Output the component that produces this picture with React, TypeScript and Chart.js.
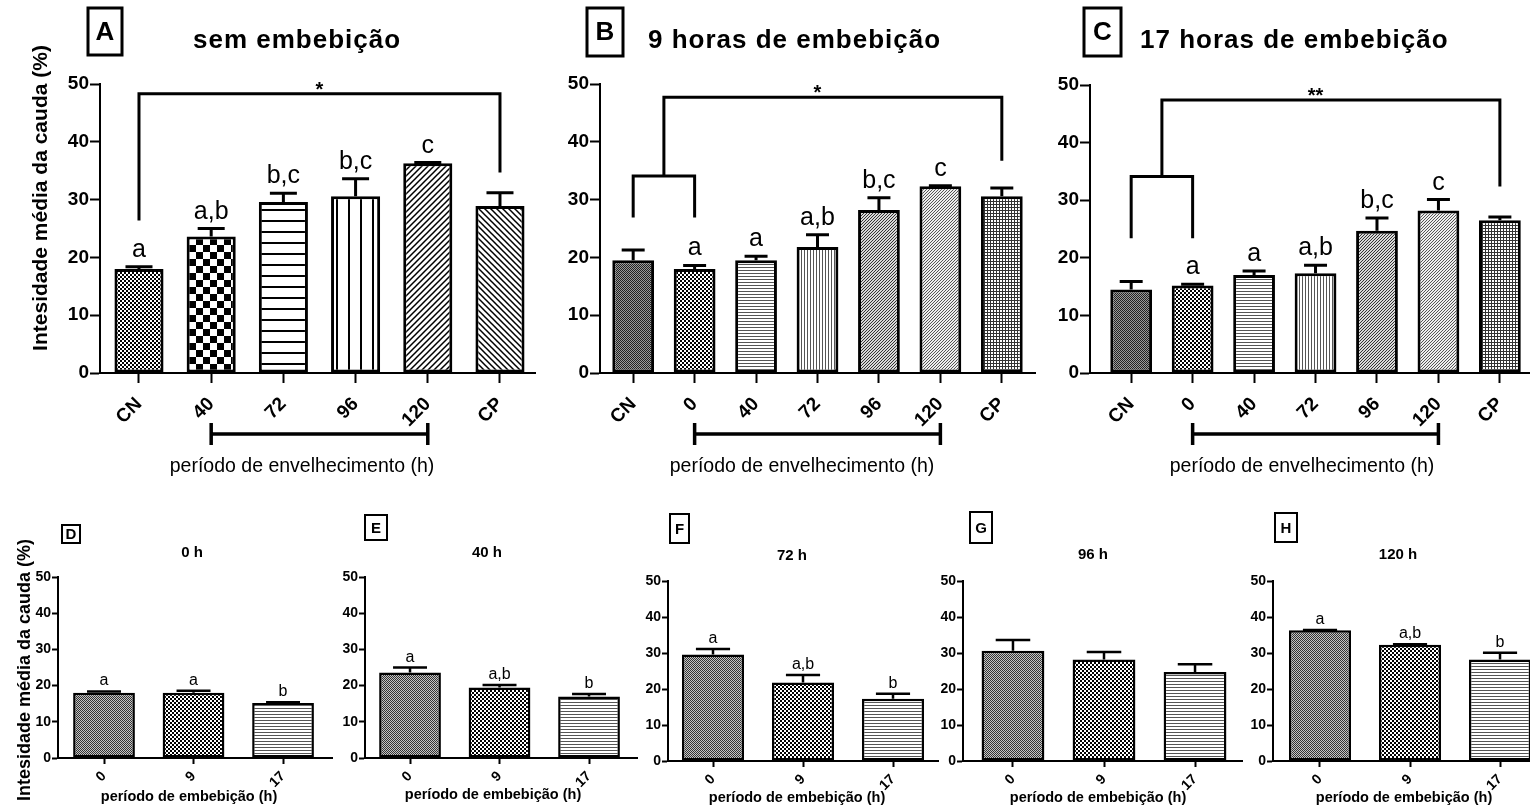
import { useEffect, useRef } from "react";
import { Chart, registerables } from "chart.js";
Chart.register(...registerables);

const FONT = "'Liberation Sans', Arial, Helvetica, sans-serif";

// ---------- data ----------
const catsA = ["CN", "40", "72", "96", "120", "CP"];
const meanA = [18.0, 23.6, 29.6, 30.6, 36.3, 28.9];
const errA = [0.4, 1.4, 1.5, 3.0, 0.1, 2.3];
const lettersA = ["a", "a,b", "b,c", "b,c", "c", ""];

const catsBC = ["CN", "0", "40", "72", "96", "120", "CP"];
const meanB = [19.5, 18.0, 19.5, 21.8, 28.2, 32.3, 30.6];
const errB = [1.8, 0.6, 0.7, 2.1, 2.1, 0.1, 1.4];
const lettersB = ["", "a", "a", "a,b", "b,c", "c", ""];

const meanC = [14.5, 15.2, 17.0, 17.3, 24.7, 28.2, 26.5];
const errC = [1.4, 0.2, 0.7, 1.4, 2.2, 1.9, 0.6];
const lettersC = ["", "a", "a", "a,b", "b,c", "c", ""];

const catsBottom = ["0", "9", "17"];
const meanD = [18.0, 18.0, 15.2];
const errD = [0.4, 0.6, 0.2];
const lettersD = ["a", "a", "b"];
const meanE = [23.6, 19.5, 17.0];
const errE = [1.4, 0.7, 0.7];
const lettersE = ["a", "a,b", "b"];
const meanF = [29.6, 21.8, 17.3];
const errF = [1.5, 2.1, 1.4];
const lettersF = ["a", "a,b", "b"];
const meanG = [30.6, 28.2, 24.7];
const errG = [3.0, 2.1, 2.2];
const lettersG = ["", "", ""];
const meanH = [36.3, 32.3, 28.2];
const errH = [0.1, 0.1, 1.9];
const lettersH = ["a", "a,b", "b"];

// ---------- patterns ----------
function tile(w: number, h: number, draw: (g: CanvasRenderingContext2D) => void, bg = "#fff") {
  const c = document.createElement("canvas");
  c.width = w;
  c.height = h;
  const g = c.getContext("2d")!;
  g.fillStyle = bg;
  g.fillRect(0, 0, w, h);
  draw(g);
  return g.createPattern(c, "repeat")!;
}

function makePatterns(): Record<string, CanvasPattern> {
  return {
    checkFine: tile(4, 4, (g) => {
      g.fillStyle = "#000";
      g.fillRect(0, 0, 2, 2);
      g.fillRect(2, 2, 2, 2);
    }),
    checkBig: tile(14, 14, (g) => {
      g.fillStyle = "#000";
      g.fillRect(0, 0, 7, 7);
      g.fillRect(7, 7, 7, 7);
    }),
    hLines: tile(4, 11, (g) => {
      g.fillStyle = "#000";
      g.fillRect(0, 0, 4, 2);
    }),
    vLines: tile(12, 4, (g) => {
      g.fillStyle = "#000";
      g.fillRect(0, 0, 2, 4);
    }),
    diagR: tile(6, 6, (g) => {
      g.strokeStyle = "#000";
      g.lineWidth = 1.5;
      g.beginPath();
      g.moveTo(-1, 7);
      g.lineTo(7, -1);
      g.moveTo(-1, 1);
      g.lineTo(1, -1);
      g.moveTo(5, 7);
      g.lineTo(7, 5);
      g.stroke();
    }),
    diagL: tile(6, 6, (g) => {
      g.strokeStyle = "#000";
      g.lineWidth = 1.5;
      g.beginPath();
      g.moveTo(-1, -1);
      g.lineTo(7, 7);
      g.moveTo(5, -1);
      g.lineTo(7, 1);
      g.moveTo(-1, 5);
      g.lineTo(1, 7);
      g.stroke();
    }),
    darkFine: tile(2, 2, (g) => {
      g.fillStyle = "#222";
      g.fillRect(0, 0, 1, 1);
      g.fillRect(1, 1, 1, 1);
    }, "#9a9a9a"),
    darkMid: tile(2, 2, (g) => {
      g.fillStyle = "#333";
      g.fillRect(0, 0, 1, 1);
      g.fillRect(1, 1, 1, 1);
    }, "#c4c4c4"),
    hFine: tile(3, 3, (g) => {
      g.fillStyle = "#555";
      g.fillRect(0, 0, 3, 1);
    }),
    vFine: tile(3, 3, (g) => {
      g.fillStyle = "#555";
      g.fillRect(0, 0, 1, 3);
    }),
    diagDark: tile(3, 3, (g) => {
      g.fillStyle = "#333";
      g.fillRect(0, 2, 1, 1);
      g.fillRect(1, 1, 1, 1);
      g.fillRect(2, 0, 1, 1);
    }, "#d8d8d8"),
    diagLight: tile(3, 3, (g) => {
      g.fillStyle = "#555";
      g.fillRect(0, 2, 1, 1);
      g.fillRect(1, 1, 1, 1);
      g.fillRect(2, 0, 1, 1);
    }, "#eeeeee"),
    gridFine: tile(3, 3, (g) => {
      g.fillStyle = "#333";
      g.fillRect(0, 0, 3, 1);
      g.fillRect(0, 0, 1, 3);
    }),
  };
}

// ---------- panel layout ----------
type Panel = any;

const patsA = ["checkFine", "checkBig", "hLines", "vLines", "diagR", "diagL"];
const patsBC = ["darkFine", "checkFine", "hFine", "vFine", "diagDark", "diagLight", "gridFine"];
const patsBottom = ["darkMid", "checkFine", "hFine"];

const PANELS: Panel[] = [
  {
    id: "A", cats: catsA, mean: meanA, err: errA, letters: lettersA, pats: patsA, big: true,
    area: { l: 100, r: 535, t: 84, b: 373 }, xr: [-0.54, 5.485],
    box: { x: 88, y: 8, w: 34, h: 47, label: "A" },
    title: { text: "sem embebição", x: 193, y: 48 },
    xTitle: { text: "período de envelhecimento (h)", x: 302, y: 472 },
    yTitle: { x: 41, y: 198 },
    group: [1, 4],
    bracket: { kind: "simple", a: 0, to: 5, legL: 26.4, top: 48.3, legR: 34.7, star: "*" },
  },
  {
    id: "B", cats: catsBC, mean: meanB, err: errB, letters: lettersB, pats: patsBC, big: true,
    area: { l: 600, r: 1035, t: 84, b: 373 }, xr: [-0.54, 6.54],
    box: { x: 587, y: 8, w: 36, h: 48, label: "B" },
    title: { text: "9 horas de embebição", x: 648, y: 48 },
    xTitle: { text: "período de envelhecimento (h)", x: 802, y: 472 },
    group: [1, 5],
    bracket: { kind: "nested", a: 0, b: 1, legLow: 26.9, join: 34.1, to: 6, top: 47.7, legR: 36.7, star: "*" },
  },
  {
    id: "C", cats: catsBC, mean: meanC, err: errC, letters: lettersC, pats: patsBC, big: true,
    area: { l: 1090, r: 1530, t: 85, b: 373 }, xr: [-0.67, 6.49],
    box: { x: 1084, y: 8, w: 37, h: 48, label: "C" },
    title: { text: "17 horas de embebição", x: 1140, y: 48 },
    xTitle: { text: "período de envelhecimento (h)", x: 1302, y: 472 },
    group: [1, 5],
    bracket: { kind: "nested", a: 0, b: 1, legLow: 23.4, join: 34.1, to: 6, top: 47.4, legR: 32.4, star: "**" },
  },
  {
    id: "D", cats: catsBottom, mean: meanD, err: errD, letters: lettersD, pats: patsBottom, big: false,
    area: { l: 58, r: 332, t: 577, b: 758 }, xr: [-0.514, 2.547],
    box: { x: 62, y: 525, w: 18, h: 18, label: "D" },
    title: { text: "0 h", x: 192, y: 557 },
    xTitle: { text: "período de embebição (h)", x: 189, y: 801 },
    yTitle: { x: 25, y: 670 },
  },
  {
    id: "E", cats: catsBottom, mean: meanE, err: errE, letters: lettersE, pats: patsBottom, big: false,
    area: { l: 365, r: 637, t: 577, b: 758 }, xr: [-0.503, 2.536],
    box: { x: 365, y: 515, w: 22, h: 25, label: "E" },
    title: { text: "40 h", x: 487, y: 557 },
    xTitle: { text: "período de embebição (h)", x: 493, y: 799 },
  },
  {
    id: "F", cats: catsBottom, mean: meanF, err: errF, letters: lettersF, pats: patsBottom, big: false,
    area: { l: 668, r: 938, t: 581, b: 761 }, xr: [-0.5, 2.5],
    box: { x: 670, y: 514, w: 19, h: 29, label: "F" },
    title: { text: "72 h", x: 792, y: 560 },
    xTitle: { text: "período de embebição (h)", x: 797, y: 802 },
  },
  {
    id: "G", cats: catsBottom, mean: meanG, err: errG, letters: lettersG, pats: patsBottom, big: false,
    area: { l: 963, r: 1242, t: 581, b: 761 }, xr: [-0.549, 2.516],
    box: { x: 970, y: 512, w: 22, h: 31, label: "G" },
    title: { text: "96 h", x: 1093, y: 559 },
    xTitle: { text: "período de embebição (h)", x: 1098, y: 802 },
  },
  {
    id: "H", cats: catsBottom, mean: meanH, err: errH, letters: lettersH, pats: patsBottom, big: false,
    area: { l: 1273, r: 1530, t: 581, b: 761 }, xr: [-0.522, 2.333],
    box: { x: 1275, y: 513, w: 22, h: 29, label: "H" },
    title: { text: "120 h", x: 1398, y: 559 },
    xTitle: { text: "período de embebição (h)", x: 1404, y: 802 },
  },
];

const CW = 1600;
const CH = 812;

function overlay(p: Panel) {
  return {
    id: "overlay" + p.id,
    afterDatasetsDraw(chart: any) {
      const ctx = chart.ctx as CanvasRenderingContext2D;
      const xs = chart.scales.x;
      const ys = chart.scales.y;
      const meta = chart.getDatasetMeta(0);
      ctx.save();
      ctx.strokeStyle = "#000";
      ctx.fillStyle = "#000";
      ctx.lineCap = "butt";
      ctx.lineJoin = "miter";
      const lw = p.big ? 3 : 2.5;
      ctx.lineWidth = lw;
      meta.data.forEach((el: any, i: number) => {
        const v = p.mean[i];
        const e = p.err[i];
        const yTop = ys.getPixelForValue(v + e);
        const yBar = ys.getPixelForValue(v);
        if (e > 0) {
          const cap = el.width * 0.55;
          ctx.beginPath();
          ctx.moveTo(el.x, yBar);
          ctx.lineTo(el.x, yTop);
          ctx.moveTo(el.x - cap / 2, yTop);
          ctx.lineTo(el.x + cap / 2, yTop);
          ctx.stroke();
        }
        const lab = p.letters[i];
        if (lab) {
          ctx.font = `${p.big ? 25 : 16}px ${FONT}`;
          ctx.textAlign = "center";
          ctx.textBaseline = "alphabetic";
          ctx.fillText(lab, el.x, Math.min(yTop, yBar) - (p.big ? 10 : 6));
        }
      });

      // significance brackets
      const br = p.bracket;
      if (br) {
        ctx.lineWidth = 3;
        const yT = ys.getPixelForValue(br.top);
        const xR = xs.getPixelForValue(br.to);
        let xStart: number;
        let xA: number;
        ctx.beginPath();
        if (br.kind === "simple") {
          xA = xs.getPixelForValue(br.a);
          xStart = xA;
          ctx.moveTo(xA, ys.getPixelForValue(br.legL));
          ctx.lineTo(xA, yT);
        } else {
          xA = xs.getPixelForValue(br.a);
          const xB = xs.getPixelForValue(br.b);
          const yJ = ys.getPixelForValue(br.join);
          const yL = ys.getPixelForValue(br.legLow);
          ctx.moveTo(xA, yL);
          ctx.lineTo(xA, yJ);
          ctx.lineTo(xB, yJ);
          ctx.lineTo(xB, yL);
          xStart = (xA + xB) / 2;
          ctx.moveTo(xStart, yJ);
          ctx.lineTo(xStart, yT);
        }
        ctx.lineTo(xR, yT);
        ctx.lineTo(xR, ys.getPixelForValue(br.legR));
        ctx.stroke();
        ctx.font = `bold 20px ${FONT}`;
        ctx.textAlign = "center";
        ctx.textBaseline = "alphabetic";
        ctx.fillText(br.star, (xA + xR) / 2, yT + 2);
      }

      // grouping bar under x axis
      if (p.group) {
        const x0 = xs.getPixelForValue(p.group[0]);
        const x1 = xs.getPixelForValue(p.group[1]);
        ctx.lineWidth = 3.5;
        ctx.beginPath();
        ctx.moveTo(x0, 434);
        ctx.lineTo(x1, 434);
        ctx.moveTo(x0, 423);
        ctx.lineTo(x0, 445);
        ctx.moveTo(x1, 423);
        ctx.lineTo(x1, 445);
        ctx.stroke();
      }
      ctx.restore();
    },
    afterDraw(chart: any) {
      const ctx = chart.ctx as CanvasRenderingContext2D;
      ctx.save();
      ctx.strokeStyle = "#000";
      ctx.fillStyle = "#000";
      // panel letter box
      const b = p.box;
      ctx.lineWidth = p.big ? 3 : 2;
      ctx.strokeRect(b.x, b.y, b.w, b.h);
      ctx.font = `bold ${p.big ? 26 : 15}px ${FONT}`;
      ctx.textAlign = "center";
      ctx.textBaseline = "middle";
      ctx.fillText(b.label, b.x + b.w / 2, b.y + b.h / 2 + 1);
      // title
      ctx.textBaseline = "alphabetic";
      if (p.big) {
        ctx.font = `bold 26px ${FONT}`;
        (ctx as any).letterSpacing = "1px";
        ctx.textAlign = "left";
      } else {
        ctx.font = `bold 15px ${FONT}`;
        ctx.textAlign = "center";
      }
      ctx.fillText(p.title.text, p.title.x, p.title.y);
      (ctx as any).letterSpacing = "0px";
      // x axis title
      ctx.font = p.big ? `19.5px ${FONT}` : `bold 14.5px ${FONT}`;
      ctx.textAlign = "center";
      ctx.fillText(p.xTitle.text, p.xTitle.x, p.xTitle.y);
      // y axis title
      if (p.yTitle) {
        ctx.translate(p.yTitle.x, p.yTitle.y);
        ctx.rotate(-Math.PI / 2);
        ctx.font = p.big ? `bold 21px ${FONT}` : `bold 18px ${FONT}`;
        ctx.textAlign = "center";
        ctx.textBaseline = "middle";
        ctx.fillText("Intesidade média da cauda (%)", 0, 0);
      }
      ctx.restore();
    },
  };
}

function buildConfig(p: Panel, P: Record<string, CanvasPattern>): any {
  const yW = p.big ? 50 : 34;
  const xH = p.big ? 60 : 30;
  const tickLen = p.big ? 10 : 6;
  const tickFont = { family: FONT, size: p.big ? 19 : 14, weight: "bold" as const };
  return {
    type: "bar",
    data: {
      datasets: [
        {
          data: p.mean.map((v: number, i: number) => ({ x: i, y: v })),
          backgroundColor: p.pats.map((k: string) => P[k]),
          borderColor: "#000",
          borderWidth: p.big ? 3 : 2.5,
          borderSkipped: false,
          barPercentage: p.big ? 0.68 : 0.69,
          categoryPercentage: 1,
        },
      ],
    },
    options: {
      animation: false,
      responsive: false,
      devicePixelRatio: 1,
      events: [],
      layout: {
        padding: {
          left: p.area.l - yW,
          right: CW - p.area.r,
          top: p.area.t,
          bottom: CH - p.area.b - xH,
        },
      },
      plugins: { legend: { display: false }, tooltip: { enabled: false }, title: { display: false } },
      scales: {
        x: {
          type: "linear",
          bounds: "data",
          min: p.xr[0],
          max: p.xr[1],
          offset: false,
          afterFit: (s: any) => {
            s.height = xH;
          },
          afterBuildTicks: (s: any) => {
            s.ticks = p.cats.map((_: string, i: number) => ({ value: i }));
          },
          grid: {
            offset: false,
            drawOnChartArea: false,
            drawTicks: true,
            tickLength: tickLen,
            tickWidth: 2,
            tickColor: "#000",
          },
          border: { display: true, color: "#000", width: 2 },
          ticks: {
            autoSkip: false,
            minRotation: 45,
            maxRotation: 45,
            padding: p.big ? 10 : 4,
            color: "#000",
            font: tickFont,
            callback: (v: number) => p.cats[v] ?? "",
          },
        },
        y: {
          min: 0,
          max: 50,
          afterFit: (s: any) => {
            s.width = yW;
          },
          grid: {
            drawOnChartArea: false,
            drawTicks: true,
            tickLength: tickLen,
            tickWidth: 2,
            tickColor: "#000",
          },
          border: { display: true, color: "#000", width: 2 },
          ticks: { stepSize: 10, padding: 1, color: "#000", font: tickFont },
        },
      },
    },
    plugins: [overlay(p)],
  };
}

export default function App() {
  const refs = useRef<(HTMLCanvasElement | null)[]>([]);
  useEffect(() => {
    const P = makePatterns();
    const charts = PANELS.map((p, k) => new Chart(refs.current[k]!, buildConfig(p, P)));
    return () => charts.forEach((c) => c.destroy());
  }, []);
  return (
    <div
      style={{
        position: "absolute",
        left: 0,
        top: 0,
        width: 1530,
        height: 812,
        overflow: "hidden",
        background: "#fff",
      }}
    >
      {PANELS.map((p, k) => (
        <canvas
          key={p.id}
          ref={(el) => {
            refs.current[k] = el;
          }}
          width={CW}
          height={CH}
          style={{ position: "absolute", left: 0, top: 0 }}
        />
      ))}
    </div>
  );
}
